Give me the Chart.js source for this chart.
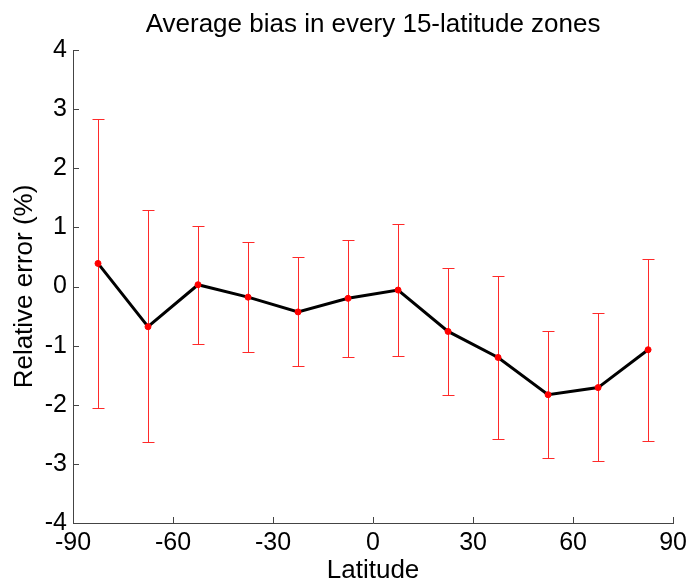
<!DOCTYPE html>
<html>
<head>
<meta charset="utf-8">
<script src="https://cdn.jsdelivr.net/npm/chart.js@4/dist/chart.umd.min.js"></script>
<style>
  html, body { margin: 0; padding: 0; background: #fff; }
  #wrap { width: 692px; height: 585px; }
</style>
</head>
<body>
<div id="wrap"><canvas id="c" width="692" height="585"></canvas></div>
<script>
// 数据：每 15 度纬度带的平均偏差及误差范围
const latCenters = [-82.5, -67.5, -52.5, -37.5, -22.5, -7.5, 7.5, 22.5, 37.5, 52.5, 67.5, 82.5];
const meanBias   = [0.39, -0.68, 0.03, -0.18, -0.43, -0.20, -0.06, -0.76, -1.20, -1.83, -1.71, -1.07];
const upperBound = [2.83, 1.29, 1.02, 0.76, 0.50, 0.79, 1.06, 0.31, 0.17, -0.75, -0.45, 0.47];
const lowerBound = [-2.05, -2.63, -0.97, -1.11, -1.34, -1.19, -1.18, -1.83, -2.58, -2.90, -2.95, -2.61];
const xTicks = [-90, -60, -30, 0, 30, 60, 90];
const yTicks = [-4, -3, -2, -1, 0, 1, 2, 3, 4];
const chartTitle = 'Average bias in every 15-latitude zones';

const FONT = 'Liberation Sans, Arial, sans-serif';
const AXIS_COLOR = '#444';

/**
 * 误差棒插件，画在折线下面
 */
const errorBars = {
  id: 'errorBars',
  beforeDatasetsDraw(chart) {
    const { ctx, scales: { x, y } } = chart;
    const cap = 6;
    ctx.save();
    ctx.strokeStyle = '#ff2a2a';
    ctx.lineWidth = 1;
    latCenters.forEach((lat, i) => {
      const px = Math.round(x.getPixelForValue(lat)) + 0.5;
      const top = Math.round(y.getPixelForValue(upperBound[i])) + 0.5;
      const bot = Math.round(y.getPixelForValue(lowerBound[i])) + 0.5;
      ctx.beginPath();
      ctx.moveTo(px, top);
      ctx.lineTo(px, bot);
      ctx.moveTo(px - cap, top);
      ctx.lineTo(px + cap, top);
      ctx.moveTo(px - cap, bot);
      ctx.lineTo(px + cap, bot);
      ctx.stroke();
    });
    ctx.restore();
  }
};

/**
 * 朝内的刻度线 + 居中于绘图区的标题
 */
const innerTicks = {
  id: 'innerTicks',
  afterDraw(chart) {
    const { ctx, chartArea, scales: { x, y } } = chart;
    const len = 6;
    ctx.save();
    ctx.strokeStyle = AXIS_COLOR;
    ctx.lineWidth = 1;
    ctx.beginPath();
    xTicks.forEach(v => {
      const px = Math.round(x.getPixelForValue(v)) + 0.5;
      ctx.moveTo(px, chartArea.bottom);
      ctx.lineTo(px, chartArea.bottom - len);
    });
    yTicks.forEach(v => {
      const py = Math.round(y.getPixelForValue(v)) + 0.5;
      ctx.moveTo(chartArea.left, py);
      ctx.lineTo(chartArea.left + len, py);
    });
    ctx.stroke();

    // 标题
    ctx.fillStyle = '#000';
    ctx.font = '26px ' + FONT;
    ctx.textAlign = 'center';
    ctx.textBaseline = 'alphabetic';
    ctx.fillText(chartTitle, (chartArea.left + chartArea.right) / 2, 32);
    ctx.restore();
  }
};

new Chart(document.getElementById('c'), {
  type: 'line',
  data: {
    datasets: [{
      data: latCenters.map((lat, i) => ({ x: lat, y: meanBias[i] })),
      borderColor: '#000',
      borderWidth: 3,
      pointRadius: 3,
      pointBackgroundColor: '#ff0000',
      pointBorderColor: '#ff0000',
      pointBorderWidth: 1,
      tension: 0,
      fill: false
    }]
  },
  options: {
    responsive: false,
    animation: false,
    layout: { padding: { left: 0, right: 16, top: 50, bottom: 0 } },
    plugins: {
      legend: { display: false },
      tooltip: { enabled: false },
      title: { display: false }
    },
    scales: {
      x: {
        type: 'linear',
        min: -90,
        max: 90,
        afterBuildTicks: (scale) => { scale.ticks = xTicks.map(v => ({ value: v })); },
        afterFit: (scale) => { scale.height = 62; },
        ticks: {
          color: '#000',
          font: { family: FONT, size: 25 },
          padding: 5,
          maxRotation: 0
        },
        grid: { display: true, drawOnChartArea: false, drawTicks: false },
        border: { display: true, color: AXIS_COLOR, width: 1 },
        title: {
          display: true,
          text: 'Latitude',
          color: '#000',
          font: { family: FONT, size: 26, lineHeight: 1.1 },
          padding: { top: 0, bottom: 0 }
        }
      },
      y: {
        type: 'linear',
        min: -4,
        max: 4,
        afterBuildTicks: (scale) => { scale.ticks = yTicks.map(v => ({ value: v })); },
        afterFit: (scale) => { scale.width = 73; },
        ticks: {
          color: '#000',
          font: { family: FONT, size: 25 },
          padding: 6
        },
        grid: { display: true, drawOnChartArea: false, drawTicks: false },
        border: { display: true, color: AXIS_COLOR, width: 1 },
        title: {
          display: true,
          text: 'Relative error (%)',
          color: '#000',
          font: { family: FONT, size: 26, lineHeight: 1.1 },
          padding: { top: 11, bottom: 0 }
        }
      }
    }
  },
  plugins: [errorBars, innerTicks]
});
</script>
</body>
</html>
